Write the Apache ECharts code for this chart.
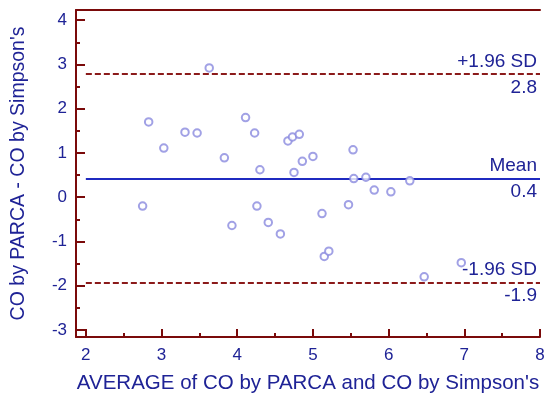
<!DOCTYPE html>
<html>
<head>
<meta charset="utf-8">
<script src="https://cdn.jsdelivr.net/npm/echarts@6/dist/echarts.min.js"></script>
<style>html,body{margin:0;padding:0;background:#fff}#c{width:548px;height:395px}</style>
</head>
<body>
<div id="c"></div>
<script>
// Data (Bland-Altman plot)
var avgValues = [2.75, 2.83, 3.03, 3.31, 3.47, 3.63, 3.83, 4.11, 4.23, 4.30, 4.67, 4.73, 4.82, 4.75, 4.86, 5.00,
                 3.93, 4.26, 4.41, 4.57, 5.12, 5.47, 5.81, 6.03, 5.15, 5.21, 6.47, 6.96, 5.53, 5.54, 5.70, 6.28];
var diffValues = [-0.20, 1.70, 1.11, 1.47, 1.45, 2.92, 0.89, 1.80, 1.45, 0.62, 1.27, 1.36, 1.42, 0.56, 0.81, 0.92,
                  -0.64, -0.20, -0.57, -0.83, -0.37, -0.17, 0.16, 0.12, -1.34, -1.22, -1.80, -1.48, 1.07, 0.42, 0.45, 0.37];
var limitNames = ['+1.96 SD', 'Mean', '-1.96 SD'];
var limitValues = [2.78, 0.42, -1.93];
var limitLabels = ['2.8', '0.4', '-1.9'];
var xTickLabels = [2, 3, 4, 5, 6, 7, 8];
var xMinorTicks = [2.5, 3.5, 4.5, 5.5, 6.5, 7.5];
var yTickLabels = [-3, -2, -1, 0, 1, 2, 3, 4];
var yMinorTicks = [-2.5, -1.5, -0.5, 0.5, 1.5, 2.5, 3.5];
var xRange = [1.87, 8];
var yRange = [-3.16, 4.23];

var axisRed = '#7a0a0a';
var textBlue = '#1f2396';
var fontFam = '"Liberation Sans", Arial, sans-serif';

var points = avgValues.map(function (v, i) { return [v, diffValues[i]]; });

var lineData = [];
limitValues.forEach(function (v, i) {
  var isMean = limitNames[i] === 'Mean';
  var style = isMean ? { color: '#1f2ac0', width: 2, type: 'solid' } : { color: '#8b1a1a', width: 2, type: [6, 3] };
  lineData.push([
    { coord: [xTickLabels[0], v], lineStyle: style,
      label: { show: true, position: 'insideEndTop', formatter: limitNames[i], color: textBlue, fontSize: 19, fontFamily: fontFam, distance: [3, 3] } },
    { coord: [xTickLabels[xTickLabels.length - 1], v] }
  ]);
  lineData.push([
    { coord: [xTickLabels[0], v], lineStyle: { color: 'rgba(0,0,0,0)', width: 1, type: 'solid' },
      label: { show: true, position: 'insideEndBottom', formatter: limitLabels[i], color: textBlue, fontSize: 19, fontFamily: fontFam, distance: [3, 4] } },
    { coord: [xTickLabels[xTickLabels.length - 1], v] }
  ]);
});

var chart = echarts.init(document.getElementById('c'));
chart.setOption({
  animation: false,
  backgroundColor: '#fff',
  grid: { left: 76, right: 8, top: 10, bottom: 58, containLabel: false, outerBoundsMode: 'none' },
  xAxis: [
    {
      type: 'value', position: 'bottom', min: xRange[0], max: xRange[1],
      name: "AVERAGE of CO by PARCA and CO by Simpson's", nameLocation: 'middle', nameGap: 36,
      nameTextStyle: { color: textBlue, fontSize: 20.5, fontFamily: fontFam },
      axisLine: { show: true, onZero: false, lineStyle: { color: axisRed, width: 2 } },
      axisTick: { show: true, inside: true, length: 8, customValues: xTickLabels, lineStyle: { color: axisRed, width: 2 } },
      axisLabel: { show: true, customValues: xTickLabels, color: textBlue, fontSize: 17, fontFamily: fontFam, margin: 10 },
      splitLine: { show: false }
    },
    {
      type: 'value', position: 'bottom', min: xRange[0], max: xRange[1],
      axisLine: { show: false, onZero: false },
      axisTick: { show: true, inside: true, length: 4, customValues: xMinorTicks, lineStyle: { color: axisRed, width: 2 } },
      axisLabel: { show: false },
      splitLine: { show: false }
    },
    {
      type: 'value', position: 'top', min: xRange[0], max: xRange[1],
      axisLine: { show: true, onZero: false, lineStyle: { color: axisRed, width: 2 } },
      axisTick: { show: false }, axisLabel: { show: false }, splitLine: { show: false }
    }
  ],
  yAxis: [
    {
      type: 'value', position: 'left', min: yRange[0], max: yRange[1],
      name: "CO by PARCA - CO by Simpson's", nameLocation: 'middle', nameGap: 47,
      nameTextStyle: { color: textBlue, fontSize: 19.5, fontFamily: fontFam },
      axisLine: { show: true, onZero: false, lineStyle: { color: axisRed, width: 2 } },
      axisTick: { show: true, inside: true, length: 9, customValues: yTickLabels, lineStyle: { color: axisRed, width: 2 } },
      axisLabel: { show: true, customValues: yTickLabels, color: textBlue, fontSize: 17, fontFamily: fontFam, margin: 9 },
      splitLine: { show: false }
    },
    {
      type: 'value', position: 'left', min: yRange[0], max: yRange[1],
      axisLine: { show: false, onZero: false },
      axisTick: { show: true, inside: true, length: 4, customValues: yMinorTicks, lineStyle: { color: axisRed, width: 2 } },
      axisLabel: { show: false },
      splitLine: { show: false }
    }
  ],
  series: [
    {
      type: 'scatter', xAxisIndex: 0, yAxisIndex: 0,
      data: points,
      symbol: 'emptyCircle', symbolSize: 7.5,
      itemStyle: { color: '#8a8ade', borderWidth: 1 },
      z: 3,
      markLine: {
        silent: true, symbol: ['none', 'none'],
        data: lineData,
        z: 2
      }
    }
  ]
});
</script>
</body>
</html>
